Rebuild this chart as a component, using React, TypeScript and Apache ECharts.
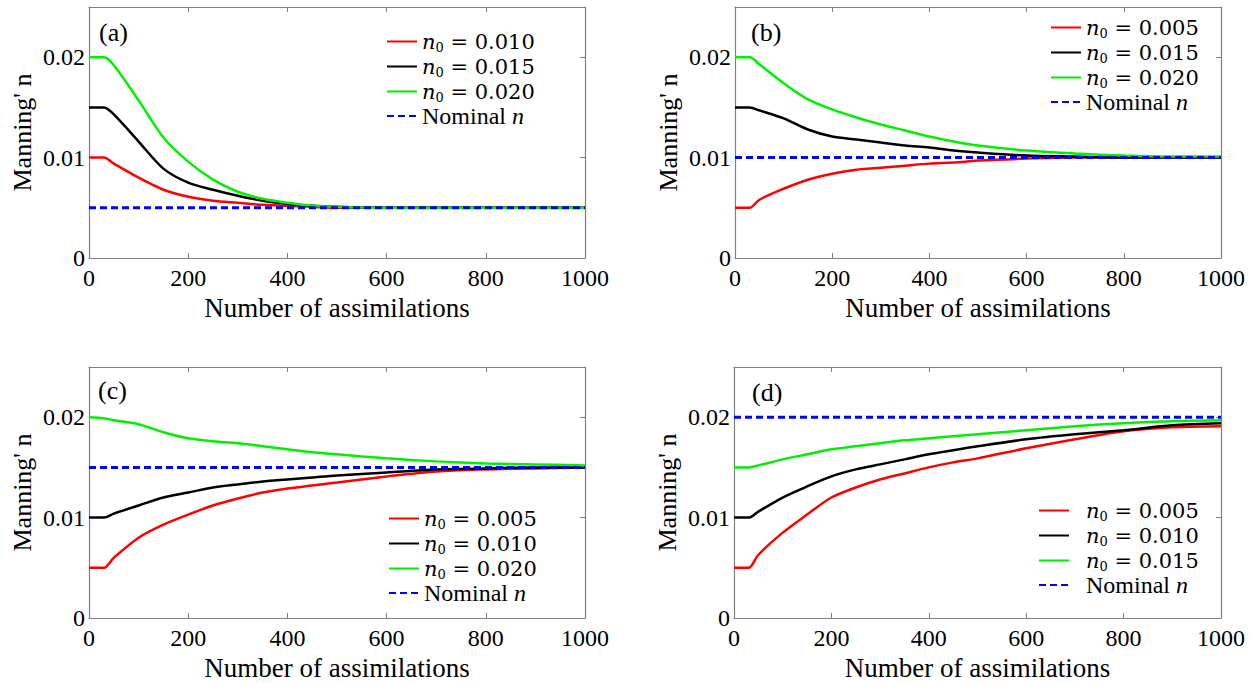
import React, { useEffect, useRef } from 'react';
import * as echarts from 'echarts';

// ---- data ----
const XS = [0, 30, 50, 100, 150, 200, 250, 300, 350, 400, 450, 500, 600, 700, 800, 900, 1000];
const X_TICKS_MAX = 1000;
const Y_MAX = 0.025;

// panel (a)
const A_RED = [0.010, 0.010, 0.0094, 0.0080, 0.0068, 0.0061, 0.0057, 0.0055, 0.0053, 0.0052, 0.0051, 0.0050, 0.0050, 0.0050, 0.0050, 0.0050, 0.0050];
const A_BLACK = [0.015, 0.015, 0.0143, 0.0116, 0.0089, 0.0075, 0.0068, 0.0062, 0.0057, 0.0054, 0.0052, 0.0051, 0.0050, 0.0050, 0.0050, 0.0050, 0.0050];
const A_GREEN = [0.020, 0.020, 0.0192, 0.0157, 0.0120, 0.0096, 0.0078, 0.0066, 0.0059, 0.0055, 0.0052, 0.0051, 0.0050, 0.0050, 0.0050, 0.0050, 0.0050];
// panel (b)
const B_RED = [0.005, 0.005, 0.0058, 0.0069, 0.0078, 0.0084, 0.0088, 0.0090, 0.0092, 0.0094, 0.0095, 0.0097, 0.0099, 0.0100, 0.0100, 0.0100, 0.0100];
const B_BLACK = [0.015, 0.015, 0.0147, 0.0139, 0.0128, 0.0121, 0.0118, 0.0115, 0.0112, 0.0110, 0.0107, 0.0105, 0.0102, 0.0101, 0.0100, 0.0100, 0.0100];
const B_GREEN = [0.020, 0.020, 0.0193, 0.0174, 0.0158, 0.0148, 0.0140, 0.0133, 0.0127, 0.0121, 0.0116, 0.0112, 0.0107, 0.0104, 0.0102, 0.0101, 0.0101];
// panel (c)
const C_RED = [0.005, 0.005, 0.0060, 0.0080, 0.0093, 0.0103, 0.0112, 0.0119, 0.0125, 0.0129, 0.0132, 0.0135, 0.0141, 0.0146, 0.0148, 0.0149, 0.0150];
const C_BLACK = [0.010, 0.010, 0.0104, 0.0112, 0.0120, 0.0125, 0.0130, 0.0133, 0.0136, 0.0138, 0.0140, 0.0142, 0.0145, 0.0148, 0.0149, 0.0150, 0.0150];
const C_GREEN = [0.020, 0.0199, 0.0197, 0.0193, 0.0185, 0.0179, 0.0176, 0.0174, 0.0171, 0.0168, 0.0165, 0.0163, 0.0159, 0.0156, 0.0154, 0.0153, 0.0152];
// panel (d)
const D_RED = [0.005, 0.005, 0.0063, 0.0085, 0.0103, 0.0120, 0.0130, 0.0138, 0.0144, 0.0150, 0.0155, 0.0159, 0.0169, 0.0178, 0.0186, 0.0190, 0.0191];
const D_BLACK = [0.010, 0.010, 0.0106, 0.0120, 0.0131, 0.0141, 0.0148, 0.0153, 0.0158, 0.0163, 0.0167, 0.0171, 0.0178, 0.0183, 0.0187, 0.0192, 0.0194];
const D_GREEN = [0.015, 0.015, 0.0152, 0.0158, 0.0163, 0.0168, 0.0171, 0.0174, 0.0177, 0.0179, 0.0181, 0.0183, 0.0187, 0.0191, 0.0194, 0.0196, 0.0197];

const NOMINAL = [0.005, 0.010, 0.015, 0.020];
const PANEL_LABELS = ['(a)', '(b)', '(c)', '(d)'];
const LEGEND_N0 = [
  ['0.010', '0.015', '0.020'],
  ['0.005', '0.015', '0.020'],
  ['0.005', '0.010', '0.020'],
  ['0.005', '0.010', '0.015'],
];
const PANEL_SERIES = [
  [A_RED, A_BLACK, A_GREEN],
  [B_RED, B_BLACK, B_GREEN],
  [C_RED, C_BLACK, C_GREEN],
  [D_RED, D_BLACK, D_GREEN],
];
const X_TITLE = 'Number of assimilations';
const Y_TITLE = "Manning' n";

// ---- layout / style ----
const GRIDS = [
  { left: 89, top: 7, width: 496, height: 251 },
  { left: 735, top: 7, width: 486, height: 251 },
  { left: 89, top: 367, width: 496, height: 251 },
  { left: 734, top: 367, width: 487, height: 251 },
];
const LEGEND_POS = [
  { left: 386, top: 29 },
  { left: 1050, top: 15 },
  { left: 388, top: 506 },
  { left: 1038, top: 498 },
];
const LEGEND_GAP = [0, 0, 0, 12];
const LABEL_POS = [
  { left: 99, top: 19 },
  { left: 751, top: 19 },
  { left: 98, top: 377 },
  { left: 752, top: 379 },
];
const COLORS = ['#ff0000', '#000000', '#00f000', '#0000ff'];
const SERIF = "'Liberation Serif', 'Times New Roman', serif";
const MATH = "'DejaVu Serif', serif";
const AXIS_COLOR = '#808080';

export default function App() {
  const ref = useRef<HTMLDivElement>(null);
  useEffect(() => {
    if (!ref.current) return;
    const chart = echarts.init(ref.current, null, { renderer: 'svg' });

    const xAxis: any[] = [];
    const yAxis: any[] = [];
    const series: any[] = [];
    const legend: any[] = [];

    GRIDS.forEach((_, i) => {
      const baseLine = { show: true, onZero: false, lineStyle: { color: AXIS_COLOR, width: 1.2 } };
      const tick = { show: true, inside: true, length: 5, lineStyle: { color: AXIS_COLOR, width: 1 } };
      xAxis.push({
        type: 'value', gridIndex: i, position: 'bottom', min: 0, max: X_TICKS_MAX, interval: 200,
        name: X_TITLE, nameLocation: 'middle', nameGap: 36,
        nameTextStyle: { fontFamily: SERIF, fontSize: 27, color: '#000' },
        axisLine: baseLine, axisTick: tick,
        axisLabel: {
          fontFamily: SERIF, fontSize: 24, color: '#000', margin: 8,
          formatter: (v: number) => String(v),
        },
        splitLine: { show: false },
      });
      xAxis.push({
        type: 'value', gridIndex: i, position: 'top', min: 0, max: X_TICKS_MAX, interval: 200,
        axisLine: baseLine, axisTick: tick, axisLabel: { show: false }, splitLine: { show: false },
      });
      yAxis.push({
        type: 'value', gridIndex: i, position: 'left', min: 0, max: Y_MAX, interval: 0.01,
        name: Y_TITLE, nameLocation: 'middle', nameGap: 54,
        nameTextStyle: { fontFamily: SERIF, fontSize: 26, color: '#000' },
        axisLine: baseLine, axisTick: tick,
        axisLabel: {
          fontFamily: SERIF, fontSize: 24, color: '#000', margin: 4, showMaxLabel: false,
          formatter: (v: number) => (v === 0 ? '0' : v.toFixed(2)),
        },
        splitLine: { show: false },
      });
      yAxis.push({
        type: 'value', gridIndex: i, position: 'right', min: 0, max: Y_MAX, interval: 0.01,
        axisLine: baseLine, axisTick: tick, axisLabel: { show: false }, splitLine: { show: false },
      });

      const names: string[] = [];
      PANEL_SERIES[i].forEach((vals, k) => {
        const name = `${i}|${k}`;
        names.push(name);
        series.push({
          type: 'line', name, xAxisIndex: 2 * i, yAxisIndex: 2 * i,
          data: XS.map((x, j) => [x, vals[j]]),
          showSymbol: false, symbol: 'none', smooth: 0.3,
          lineStyle: { color: COLORS[k], width: 2.5 }, itemStyle: { color: COLORS[k] },
          z: 2,
        });
      });
      const nomName = `${i}|3`;
      names.push(nomName);
      series.push({
        type: 'line', name: nomName, xAxisIndex: 2 * i, yAxisIndex: 2 * i,
        data: [[0, NOMINAL[i]], [X_TICKS_MAX, NOMINAL[i]]],
        showSymbol: false, symbol: 'none',
        lineStyle: { color: COLORS[3], width: 3, type: [7, 4] }, itemStyle: { color: COLORS[3] },
        z: 3,
      });

      legend.push({
        orient: 'vertical', left: LEGEND_POS[i].left, top: LEGEND_POS[i].top,
        itemGap: 0, itemWidth: 30, itemHeight: 14, padding: 0, selectedMode: false,
        itemStyle: { opacity: 0 },
        data: names,
        formatter: (name: string) => {
          const [p, k] = name.split('|').map(Number);
          const gap = LEGEND_GAP[p] ? '{gap| }' : '';
          if (k === 3) return `${gap}{nom|Nominal }{ni|n}`;
          return `${gap}{n|n}{s|0}{t| = ${LEGEND_N0[p][k]}}`;
        },
        textStyle: {
          color: '#000',
          rich: {
            gap: { width: LEGEND_GAP[i], lineHeight: 25 },
            n: { fontFamily: MATH, fontStyle: 'italic', fontSize: 21, lineHeight: 25, color: '#000' },
            s: { fontFamily: MATH, fontSize: 13, lineHeight: 13, padding: [12, 0, 0, 0], verticalAlign: 'top', color: '#000' },
            t: { fontFamily: MATH, fontSize: 21, lineHeight: 25, color: '#000' },
            nom: { fontFamily: SERIF, fontSize: 24, lineHeight: 25, color: '#000' },
            ni: { fontFamily: SERIF, fontStyle: 'italic', fontSize: 24, lineHeight: 25, color: '#000' },
          },
        },
      });
    });

    chart.setOption({
      animation: false,
      backgroundColor: '#ffffff',
      title: PANEL_LABELS.map((t, i) => ({
        text: t, left: LABEL_POS[i].left, top: LABEL_POS[i].top, padding: 0,
        textStyle: { fontFamily: SERIF, fontSize: 26, fontWeight: 'normal', color: '#000', lineHeight: 26 },
      })),
      grid: GRIDS.map((g) => ({ ...g, containLabel: false })),
      legend,
      xAxis,
      yAxis,
      series,
    });
    return () => chart.dispose();
  }, []);
  return (
    <div
      ref={ref}
      style={{ position: 'fixed', left: 0, top: 0, width: 1260, height: 683, background: '#fff' }}
    />
  );
}
